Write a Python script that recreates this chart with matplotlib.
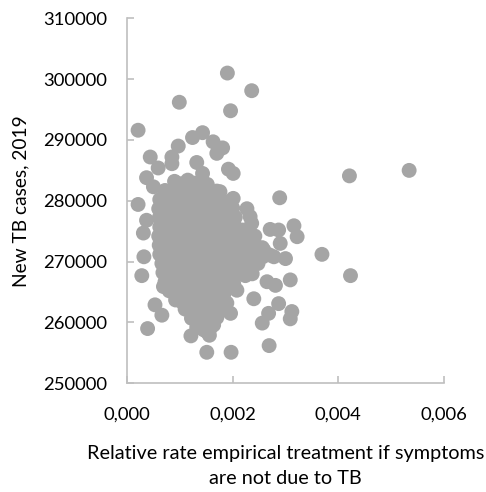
import numpy as np
import matplotlib.pyplot as plt

# Scatter of new TB cases vs relative rate of empirical treatment
# (one point per model run)

# outlying runs around the main cloud
rate_edge = [0.00190, 0.00236, 0.00196, 0.00099, 0.00021, 0.00143, 0.00124,
             0.00163, 0.00097, 0.00181, 0.00170, 0.00044, 0.00085, 0.00085,
             0.00132, 0.00059, 0.00192, 0.00201, 0.00143, 0.00421, 0.00534,
             0.00037, 0.00050, 0.00176, 0.00201, 0.00289, 0.00021, 0.00227,
             0.00233, 0.00236, 0.00037, 0.00271, 0.00287, 0.00316, 0.00322,
             0.00290, 0.00031, 0.00259, 0.00369, 0.00300, 0.00278, 0.00032,
             0.00028, 0.00423, 0.00309, 0.00281, 0.00265, 0.00069, 0.00240,
             0.00287, 0.00268, 0.00256, 0.00312, 0.00309, 0.00053, 0.00066,
             0.00039, 0.00121, 0.00156, 0.00151, 0.00164, 0.00196, 0.00189,
             0.00269, 0.00151, 0.00197, 0.00208]
cases_edge = [301000, 298100, 294800, 296200, 291600, 291200, 290400,
              289700, 289000, 288700, 287800, 287200, 287200, 286100,
              286300, 285400, 285200, 284500, 284500, 284100, 285000,
              283800, 282300, 281500, 280400, 280500, 279400, 278700,
              277400, 276300, 276800, 275300, 275200, 275900, 274100,
              273000, 274700, 271900, 271200, 270500, 270800, 270800,
              267700, 267700, 267000, 266100, 266700, 265900, 263900,
              263100, 261500, 259900, 261800, 260600, 262900, 261200,
              259000, 257800, 257900, 258500, 259600, 261500, 263200,
              256200, 255100, 255100, 265300]

# dense core of runs, listed row by row
rate_core = [
    0.00090, 0.00102, 0.00115, 0.00128, 0.00140, 0.00152,
    0.00072, 0.00085, 0.00098, 0.00110, 0.00123, 0.00135, 0.00148, 0.00160, 0.00170,
    0.00062, 0.00075, 0.00088, 0.00100, 0.00113, 0.00126, 0.00138, 0.00151, 0.00164, 0.00178,
    0.00060, 0.00073, 0.00086, 0.00098, 0.00111, 0.00124, 0.00137, 0.00149, 0.00162, 0.00175, 0.00190, 0.00200,
    0.00061, 0.00074, 0.00087, 0.00099, 0.00112, 0.00125, 0.00138, 0.00150, 0.00163, 0.00176, 0.00189, 0.00205,
    0.00062, 0.00075, 0.00088, 0.00101, 0.00114, 0.00127, 0.00139, 0.00152, 0.00165, 0.00178, 0.00191, 0.00204, 0.00218,
    0.00060, 0.00073, 0.00086, 0.00099, 0.00112, 0.00125, 0.00138, 0.00151, 0.00164, 0.00177, 0.00190, 0.00203, 0.00216, 0.00230, 0.00242,
    0.00061, 0.00074, 0.00087, 0.00100, 0.00113, 0.00126, 0.00139, 0.00152, 0.00165, 0.00178, 0.00191, 0.00204, 0.00217, 0.00230, 0.00243, 0.00256,
    0.00062, 0.00075, 0.00088, 0.00101, 0.00114, 0.00127, 0.00140, 0.00153, 0.00166, 0.00179, 0.00192, 0.00205, 0.00218, 0.00231, 0.00244, 0.00257, 0.00270,
    0.00066, 0.00079, 0.00092, 0.00105, 0.00118, 0.00131, 0.00144, 0.00157, 0.00170, 0.00183, 0.00196, 0.00209, 0.00222, 0.00235, 0.00248,
    0.00068, 0.00081, 0.00094, 0.00107, 0.00120, 0.00133, 0.00146, 0.00159, 0.00172, 0.00185, 0.00198, 0.00211, 0.00224, 0.00237,
    0.00072, 0.00085, 0.00098, 0.00111, 0.00124, 0.00137, 0.00150, 0.00163, 0.00176, 0.00189, 0.00202,
    0.00080, 0.00093, 0.00106, 0.00119, 0.00132, 0.00145, 0.00158, 0.00171, 0.00184,
    0.00092, 0.00105, 0.00118, 0.00131, 0.00144, 0.00157, 0.00170, 0.00180,
    0.00110, 0.00122, 0.00135, 0.00148, 0.00160, 0.00174,
    0.00122, 0.00135, 0.00148, 0.00160, 0.00170,
    0.00132, 0.00145, 0.00158,
]
cases_core = [
    283200, 282800, 283400, 282900, 283100, 282700,
    281700, 281300, 281600, 281200, 281800, 281400, 281500, 281100, 281600,
    280200, 279800, 280300, 279900, 280100, 279700, 280400, 280000, 279800, 280200,
    278700, 278300, 278600, 278400, 278800, 278200, 278500, 278700, 278300, 278600, 278400, 278800,
    277200, 276800, 277100, 276900, 277300, 276700, 277000, 277200, 276800, 277100, 276900, 277300,
    275700, 275300, 275600, 275400, 275800, 275200, 275500, 275700, 275300, 275600, 275400, 275800, 275200,
    274200, 273800, 274100, 273900, 274300, 273700, 274000, 274200, 273800, 274100, 273900, 274300, 273700, 274000, 274200,
    272700, 272300, 272600, 272400, 272800, 272200, 272500, 272700, 272300, 272600, 272400, 272800, 272200, 272500, 272700, 272300,
    271200, 270800, 271100, 270900, 271300, 270700, 271000, 271200, 270800, 271100, 270900, 271300, 270700, 271000, 271200, 270800, 271100,
    269700, 269300, 269600, 269400, 269800, 269200, 269500, 269700, 269300, 269600, 269400, 269800, 269200, 269500, 269700,
    268200, 267800, 268100, 267900, 268300, 267700, 268000, 268200, 267800, 268100, 267900, 268300, 267700, 268000,
    266700, 266300, 266600, 266400, 266800, 266200, 266500, 266700, 266300, 266600, 266400,
    265200, 264800, 265100, 264900, 265300, 264700, 265000, 265200, 264800,
    263700, 263300, 263600, 263400, 263800, 263200, 263500, 263700,
    262200, 261800, 262100, 261900, 262300, 261700,
    260700, 260300, 260600, 260400, 260800,
    259200, 258800, 259100,
]

rate = np.array(rate_edge + rate_core)
cases = np.array(cases_edge + cases_core)

plt.rcParams['font.family'] = ['Lato', 'DejaVu Sans']

fig = plt.figure(figsize=(4.86, 4.92), dpi=100)
ax = fig.add_axes([0.2613, 0.2209, 0.6523, 0.7419])

ax.scatter(rate, cases, s=115, color='#A5A5A5', edgecolors='none', zorder=3)

ax.set_xlim(0, 0.006)
ax.set_ylim(250000, 310000)
ax.set_xticks([0, 0.002, 0.004, 0.006])
ax.set_xticklabels(['0,000', '0,002', '0,004', '0,006'])
ax.set_yticks(np.arange(250000, 310001, 10000))
ax.set_yticklabels([str(v) for v in range(250000, 310001, 10000)])

for side in ['top', 'right']:
    ax.spines[side].set_visible(False)
for side in ['left', 'bottom']:
    ax.spines[side].set_color('#BFBFBF')
    ax.spines[side].set_linewidth(1.2)

ax.tick_params(axis='both', direction='in', length=5, width=1.2,
               color='#BFBFBF', labelsize=13.3, labelcolor='black')
ax.tick_params(axis='x', pad=17)
ax.tick_params(axis='y', pad=14)

ax.set_xlabel('Relative rate empirical treatment if symptoms\nare not due to TB',
              fontsize=14.3, labelpad=16, linespacing=1.55)
ax.set_ylabel('New TB cases, 2019', fontsize=13.8, labelpad=10)

fig.savefig('out.png', dpi=100)
